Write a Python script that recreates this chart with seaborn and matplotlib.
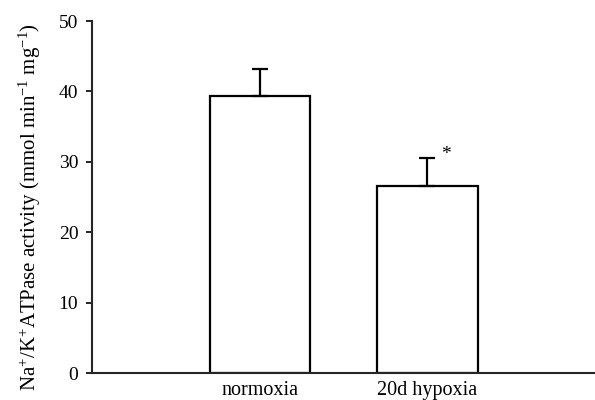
import pandas as pd
import numpy as np
import matplotlib
matplotlib.use("Agg")
import matplotlib.pyplot as plt
import seaborn as sns

# Values
groups = ["normoxia", "20d hypoxia"]
activity = [39.4, 26.6]
sem = [3.8, 4.0]
yticks = [0, 10, 20, 30, 40, 50]

data = pd.DataFrame({"group": groups, "activity": activity})

sns.set_style("ticks")
plt.rcParams["font.family"] = ["Liberation Serif", "DejaVu Serif"]
plt.rcParams["mathtext.fontset"] = "custom"
plt.rcParams["mathtext.rm"] = "Liberation Serif"
plt.rcParams["mathtext.it"] = "Liberation Serif:italic"
plt.rcParams["text.color"] = "black"
plt.rcParams["axes.labelcolor"] = "black"
plt.rcParams["xtick.color"] = "black"
plt.rcParams["ytick.color"] = "black"

fig = plt.figure(figsize=(5.95, 4), dpi=100)
ax = fig.add_axes([0.155, 0.0675, 0.845, 0.88])

sns.barplot(data=data, x="group", y="activity", color="white", edgecolor="black",
            linewidth=1.6, width=0.6, errorbar=None, ax=ax)
ax.errorbar(range(len(groups)), activity, yerr=[np.zeros(len(sem)), sem],
            fmt="none", ecolor="black", elinewidth=1.6, capsize=6, capthick=1.6)

# significance marker
ax.text(1.11, activity[1] + sem[1] + 0.4, "*", ha="center", va="center", fontsize=14)

ax.set_xlim(-1, 2)
ax.set_ylim(0, 50)
ax.set_yticks(yticks)
ax.set_xlabel("")
ax.set_ylabel("Na$^{+}$/K$^{+}$ATPase activity (mmol min$^{-1}$ mg$^{-1}$)",
              fontsize=15, labelpad=11, y=0.47)
ax.tick_params(axis="y", labelsize=14, length=4, width=1.2, direction="out", pad=6)
ax.tick_params(axis="x", labelsize=14.5, length=0, pad=6)
for s in ["top", "right"]:
    ax.spines[s].set_visible(False)
for s in ["left", "bottom"]:
    ax.spines[s].set_linewidth(1.5)

fig.savefig("out.png", dpi=100)
